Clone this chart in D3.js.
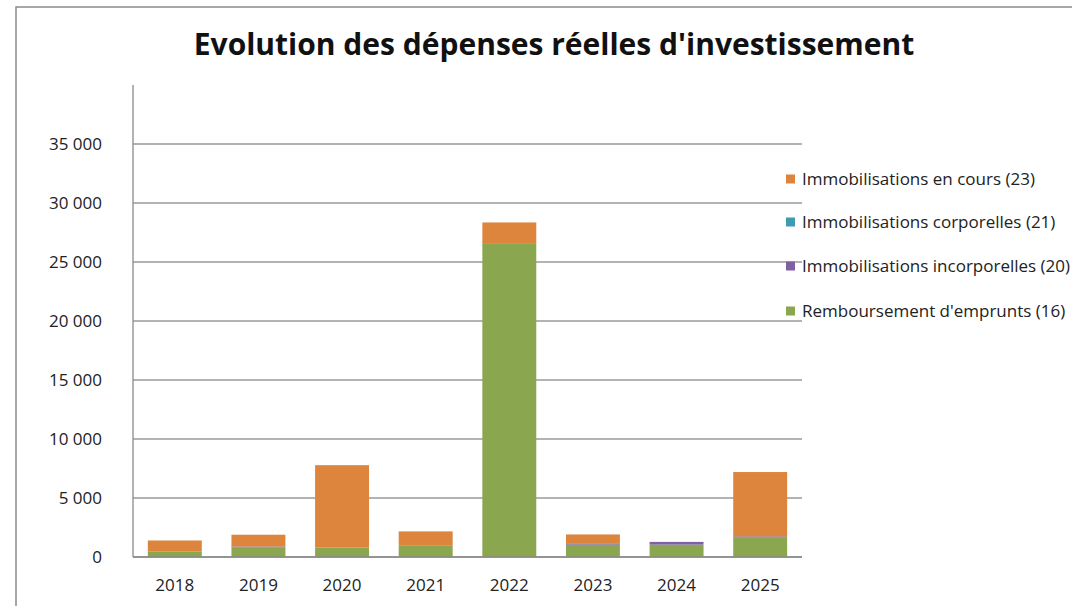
<!DOCTYPE html>
<html><head><meta charset="utf-8">
<script src="https://cdn.jsdelivr.net/npm/d3@7"></script>
<style>body{margin:0;background:#fff}svg{display:block;font-family:"Open Sans",sans-serif}</style>
</head><body><svg id="c" width="1072" height="606"></svg>
<script>
const years = ["2018","2019","2020","2021","2022","2023","2024","2025"];
const rembEmprunts = [450, 820, 820, 950, 26600, 1050, 1050, 1650];
const immoIncorp = [0, 70, 0, 0, 0, 60, 230, 100];
const immoCorp = [0, 0, 0, 0, 0, 0, 0, 0];
const immoEnCours = [950, 1000, 6960, 1220, 1750, 800, 0, 5450];
const yTicks = [0, 5000, 10000, 15000, 20000, 25000, 30000, 35000];
const seriesNames = ["Remboursement d'emprunts (16)", "Immobilisations incorporelles (20)", "Immobilisations corporelles (21)", "Immobilisations en cours (23)"];
const seriesColors = ["#8aa64f", "#7f60a0", "#3f9bb2", "#dd843d"];

const svg = d3.select("#c");
svg.append("rect").attr("x",16).attr("y",7).attr("width",1100).attr("height",700)
  .attr("fill","none").attr("stroke","#8a8a8a").attr("stroke-width",1.5);

const plot = {left:133, right:802, top:85, bottom:557};
const x = d3.scaleBand().domain(years).range([plot.left, plot.right]).paddingInner(0.355).paddingOuter(0.1775);
const y = d3.scaleLinear().domain([0, 40000]).range([plot.bottom, plot.top]);

svg.append("g").selectAll("line").data(yTicks).join("line")
  .attr("x1", plot.left).attr("x2", plot.right)
  .attr("y1", d=>y(d)).attr("y2", d=>y(d))
  .attr("stroke","#9a9a9a").attr("stroke-width",1.3);

const table = years.map((yr,i)=>({year:yr, s0:rembEmprunts[i], s1:immoIncorp[i], s2:immoCorp[i], s3:immoEnCours[i]}));
const stack = d3.stack().keys(["s0","s1","s2","s3"])(table);
svg.append("g").selectAll("g").data(stack).join("g")
  .attr("fill",(d,i)=>seriesColors[i])
  .selectAll("rect").data(d=>d).join("rect")
  .attr("x", d=>x(d.data.year)).attr("width", x.bandwidth())
  .attr("y", d=>y(d[1])).attr("height", d=>Math.max(0, y(d[0])-y(d[1])));

svg.append("line").attr("x1",plot.left).attr("x2",plot.left).attr("y1",plot.top).attr("y2",plot.bottom)
  .attr("stroke","#8a8a8a").attr("stroke-width",1.3);
svg.append("line").attr("x1",plot.left).attr("x2",plot.right).attr("y1",plot.bottom).attr("y2",plot.bottom)
  .attr("stroke","#8a8a8a").attr("stroke-width",1.5);

const fmt = d => d3.format(",")(d).replace(/,/g, " ");
svg.append("g").selectAll("text").data(yTicks).join("text")
  .attr("x", 102).attr("y", d=>y(d)).attr("dy","0.36em").attr("text-anchor","end")
  .attr("font-size",17).attr("fill","#222").text(fmt);

svg.append("g").selectAll("text").data(years).join("text")
  .attr("x", d=>x(d)+x.bandwidth()/2).attr("y", 591).attr("text-anchor","middle")
  .attr("font-size",17).attr("fill","#222").text(d=>d);

svg.append("text").attr("x",554).attr("y",55).attr("text-anchor","middle")
  .attr("font-size",30).attr("font-weight","bold").attr("fill","#111")
  .text("Evolution des dépenses réelles d'investissement");

const legendY = [179, 222, 266, 311];
const legendOrder = [3,2,1,0];
const lg = svg.append("g").selectAll("g").data(legendOrder).join("g")
  .attr("transform",(d,i)=>`translate(786,${legendY[i]})`);
lg.append("rect").attr("x",0).attr("y",-4.5).attr("width",9).attr("height",9).attr("fill",d=>seriesColors[d]);
lg.append("text").attr("x",16).attr("dy","0.36em").attr("font-size",17).attr("fill","#222").text(d=>seriesNames[d]);
</script></body></html>
